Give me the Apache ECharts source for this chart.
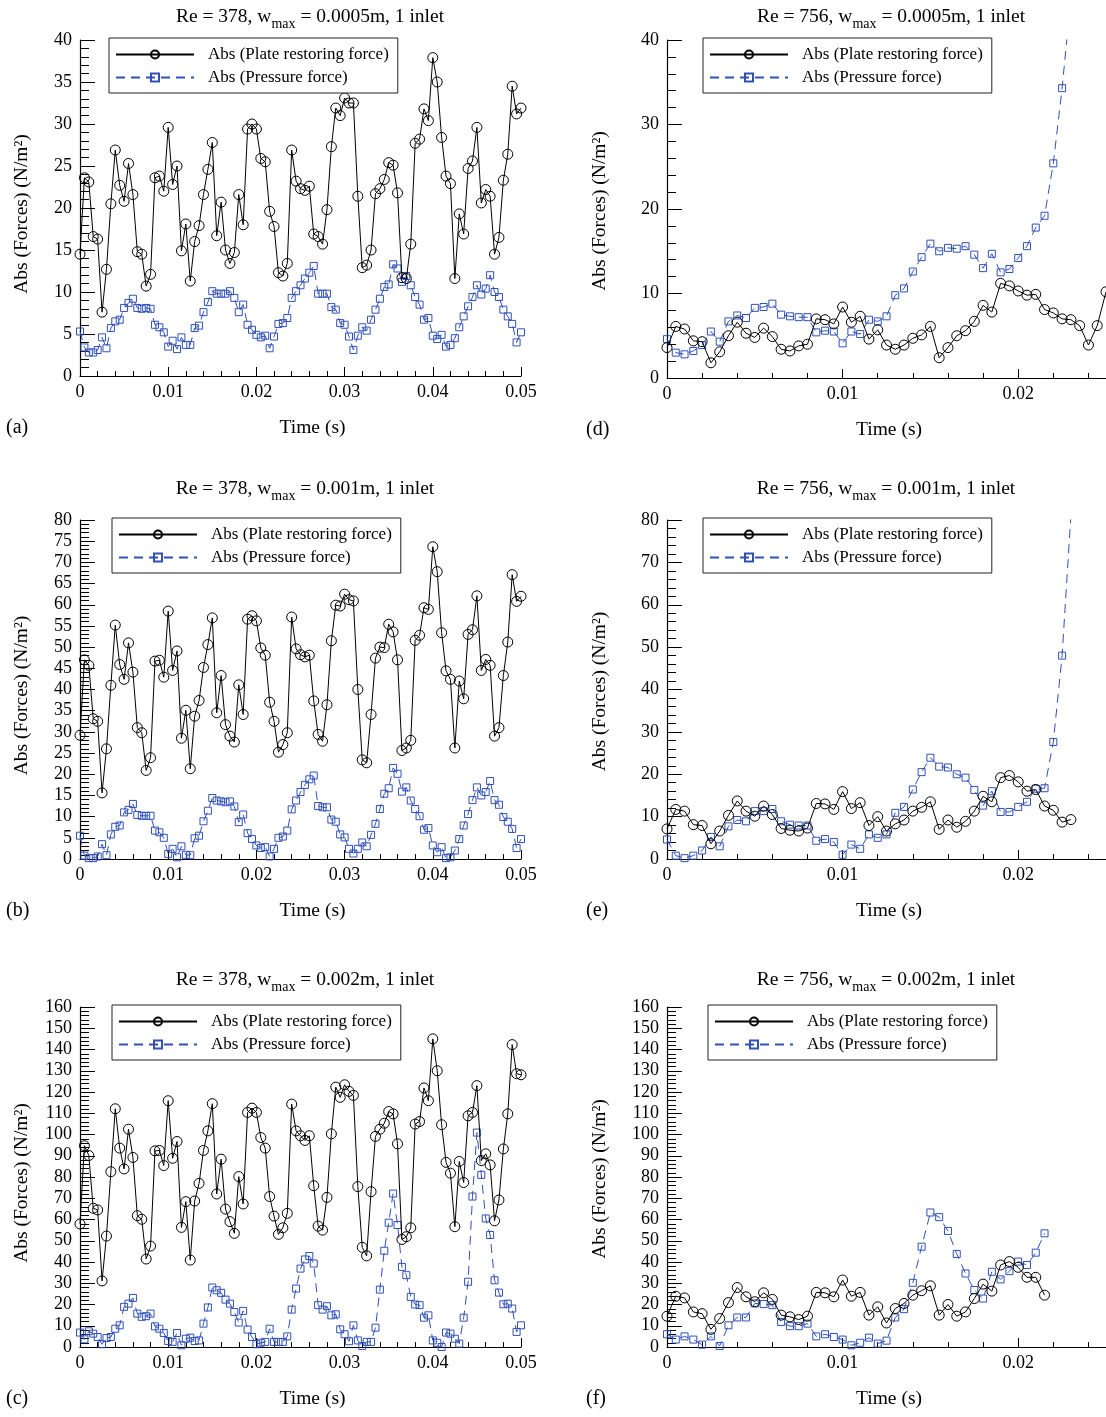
<!DOCTYPE html>
<html>
<head>
<meta charset="utf-8">
<script src="https://cdn.jsdelivr.net/npm/echarts@6/dist/echarts.min.js"></script>
<style>
  html, body { margin: 0; padding: 0; background: #fff; }
  #chart { width: 1106px; height: 1417px; }
</style>
</head>
<body>
<div id="chart"></div>
<script>
// Sampling interval of the recorded force histories (s)
const dt = 0.0005;

// Re = 378 runs, 0 - 0.05 s
const plateA = [14.5, 23.6, 23.1, 16.6, 16.3, 7.6, 12.7, 20.5, 26.9, 22.7, 20.8, 25.3, 21.6, 14.8, 14.5, 10.7, 12.1, 23.6, 23.8, 22.0, 29.6, 22.8, 25.0, 14.9, 18.1, 11.3, 16.0, 17.9, 21.6, 24.6, 27.8, 16.7, 20.7, 15.0, 13.4, 14.7, 21.6, 18.0, 29.4, 30.0, 29.4, 25.9, 25.5, 19.6, 17.8, 12.3, 11.9, 13.4, 26.9, 23.2, 22.3, 22.1, 22.6, 16.9, 16.6, 15.7, 19.8, 27.3, 31.9, 31.0, 33.1, 32.5, 32.5, 21.4, 12.9, 13.2, 15.0, 21.7, 22.3, 23.4, 25.4, 25.1, 21.8, 11.7, 11.6, 15.7, 27.7, 28.2, 31.8, 30.4, 37.9, 35.0, 28.4, 23.8, 22.9, 11.6, 19.3, 16.9, 24.7, 25.6, 29.6, 20.6, 22.2, 21.4, 14.5, 16.5, 23.3, 26.4, 34.5, 31.2, 31.9];
const pressureA = [5.3, 3.4, 2.8, 2.8, 3.1, 4.6, 3.3, 5.7, 6.5, 6.7, 8.1, 8.7, 9.2, 8.1, 8.0, 8.1, 8.0, 6.1, 5.8, 5.2, 3.5, 4.2, 3.2, 4.6, 3.7, 3.7, 5.7, 6.0, 7.6, 8.8, 10.1, 9.8, 9.8, 9.8, 10.1, 9.3, 7.6, 8.5, 6.1, 5.5, 4.9, 4.6, 4.8, 3.3, 4.7, 6.2, 6.3, 6.9, 9.3, 10.1, 10.8, 11.6, 12.3, 13.1, 9.8, 9.8, 9.8, 8.2, 7.9, 6.3, 6.1, 4.7, 3.1, 4.8, 5.8, 5.4, 6.7, 7.9, 9.2, 10.6, 10.9, 13.3, 12.8, 11.2, 11.9, 10.8, 9.4, 8.5, 6.7, 6.9, 4.8, 4.4, 4.9, 3.5, 3.7, 4.5, 5.8, 7.1, 8.3, 9.4, 10.8, 9.7, 10.4, 12.0, 10.0, 9.4, 7.9, 7.1, 6.2, 4.0, 5.2];

const plateB = [29.2, 47.0, 45.7, 33.1, 32.5, 15.6, 26.0, 41.0, 55.2, 45.9, 42.4, 51.0, 44.1, 31.0, 29.8, 20.9, 23.9, 46.7, 46.9, 42.9, 58.5, 44.5, 49.1, 28.5, 35.1, 21.3, 33.7, 37.4, 45.2, 50.6, 56.9, 34.5, 43.3, 31.7, 29.0, 27.6, 41.1, 34.1, 56.6, 57.4, 56.2, 49.8, 48.1, 37.0, 32.5, 25.2, 27.0, 29.8, 57.1, 49.6, 48.2, 47.7, 48.1, 37.3, 29.4, 27.8, 36.4, 51.5, 59.9, 59.7, 62.5, 61.2, 60.9, 40.0, 23.4, 22.7, 34.1, 47.4, 50.0, 49.9, 55.4, 53.6, 47.0, 25.6, 26.2, 28.0, 51.6, 52.8, 59.3, 58.9, 73.7, 67.8, 53.4, 44.4, 42.4, 26.2, 42.0, 37.8, 53.0, 54.1, 62.1, 44.5, 47.1, 45.7, 29.0, 31.0, 43.3, 51.2, 67.1, 60.8, 62.0];
const pressureB = [5.5, 0.8, 0.2, 0.2, 0.6, 3.5, 0.9, 5.8, 7.6, 7.9, 11.0, 11.6, 13.0, 10.4, 10.2, 10.2, 10.2, 6.7, 6.3, 5.0, 1.2, 2.4, 0.4, 3.0, 1.0, 0.9, 4.9, 5.5, 8.9, 11.4, 14.4, 13.8, 13.6, 13.4, 13.6, 12.4, 8.7, 10.5, 6.1, 4.7, 3.2, 2.6, 2.8, 0.6, 2.4, 5.0, 5.3, 6.7, 11.7, 13.8, 15.8, 17.5, 18.8, 19.7, 12.5, 12.2, 12.2, 9.3, 8.8, 5.8, 5.1, 2.4, 1.3, 2.4, 3.9, 3.0, 5.7, 8.3, 11.8, 15.4, 16.7, 21.5, 20.1, 15.9, 16.9, 13.8, 11.8, 10.1, 6.9, 7.3, 3.2, 1.6, 2.8, 0.2, 0.4, 2.0, 4.7, 7.9, 10.6, 13.9, 16.9, 15.0, 15.8, 18.4, 13.9, 12.8, 9.9, 8.8, 7.1, 2.6, 4.7];

const plateC = [57.9, 94.7, 90.1, 65.3, 64.5, 31.1, 52.2, 82.5, 112.1, 93.6, 83.8, 102.5, 89.2, 61.8, 60.1, 41.4, 47.5, 92.3, 92.5, 85.4, 115.9, 88.8, 96.7, 56.3, 68.4, 40.9, 68.7, 77.0, 92.5, 101.7, 114.5, 72.0, 88.4, 64.9, 59.0, 53.5, 80.2, 67.3, 110.4, 112.4, 110.4, 98.6, 93.6, 70.8, 61.6, 53.0, 56.1, 62.9, 114.3, 101.7, 99.4, 97.2, 99.4, 75.9, 56.9, 55.0, 70.4, 100.3, 122.3, 117.5, 123.4, 120.3, 118.4, 75.5, 46.9, 42.9, 73.1, 99.1, 102.5, 105.3, 110.8, 109.7, 95.6, 50.6, 51.9, 56.1, 104.9, 106.1, 121.9, 115.9, 145.0, 130.0, 104.6, 86.9, 81.8, 56.6, 87.3, 77.4, 108.8, 110.4, 123.0, 87.7, 90.9, 85.7, 59.4, 69.2, 93.2, 109.7, 142.3, 128.6, 128.1];
const pressureC = [6.8, 3.6, 7.4, 6.3, 4.7, 1.3, 4.2, 4.7, 8.6, 10.2, 18.9, 20.4, 23.1, 15.7, 14.2, 14.5, 15.7, 9.7, 8.6, 6.6, 2.8, 2.4, 6.6, 0.8, 3.9, 4.4, 2.8, 3.1, 11.0, 18.6, 28.0, 26.7, 25.5, 22.3, 20.4, 16.5, 11.5, 17.0, 8.2, 4.7, 1.3, 2.0, 2.4, 8.6, 2.4, 2.4, 2.4, 5.0, 17.6, 27.5, 36.9, 41.2, 42.8, 39.3, 19.7, 17.6, 19.2, 14.9, 15.4, 8.3, 6.0, 2.7, 10.2, 3.1, 0.5, 2.4, 2.4, 9.1, 27.0, 45.3, 58.5, 72.2, 57.4, 37.7, 33.8, 23.6, 20.0, 19.7, 13.8, 14.9, 3.1, 2.0, 0.0, 6.8, 6.3, 3.9, 1.6, 13.8, 30.7, 70.8, 100.9, 81.0, 60.5, 52.7, 31.4, 25.6, 20.1, 20.4, 18.1, 7.1, 10.2];

// Re = 756 runs, stop once the plate hits the wall
const plateD = [3.6, 6.1, 5.8, 4.4, 4.3, 1.8, 3.1, 5.0, 6.6, 5.3, 4.8, 5.9, 4.9, 3.4, 3.2, 3.8, 4.0, 7.0, 6.9, 6.4, 8.4, 6.6, 7.3, 4.6, 5.7, 3.9, 3.4, 3.9, 4.7, 5.1, 6.1, 2.4, 3.6, 5.0, 5.6, 6.7, 8.6, 7.8, 11.2, 10.9, 10.3, 9.8, 9.9, 8.1, 7.7, 7.0, 6.9, 6.2, 3.9, 6.2, 10.2];
const pressureD = [4.6, 3.0, 2.8, 3.2, 3.9, 5.5, 4.3, 6.7, 7.4, 7.1, 8.3, 8.4, 8.8, 7.5, 7.3, 7.2, 7.2, 5.4, 5.6, 5.5, 4.1, 5.5, 5.2, 6.9, 6.7, 7.3, 9.8, 10.6, 12.6, 14.3, 15.9, 15.0, 15.4, 15.3, 15.6, 14.6, 13.0, 14.7, 12.5, 12.9, 14.2, 15.6, 17.8, 19.2, 25.4, 34.3, 45.0];

const plateE = [7.1, 11.7, 11.3, 8.1, 7.9, 3.6, 6.6, 10.3, 13.7, 11.3, 10.1, 12.5, 10.5, 7.2, 6.8, 6.6, 7.3, 13.1, 13.0, 11.7, 15.9, 11.9, 13.3, 7.9, 10.0, 6.6, 8.3, 9.2, 11.3, 12.2, 13.5, 7.0, 9.2, 7.5, 8.9, 11.3, 14.8, 13.5, 19.2, 19.7, 18.2, 16.0, 16.4, 12.5, 11.5, 8.7, 9.3];
const pressureE = [4.6, 0.8, 0.2, 0.8, 2.0, 5.2, 3.0, 7.7, 9.2, 8.9, 11.3, 11.3, 11.8, 8.9, 8.1, 7.9, 7.9, 4.3, 4.7, 4.0, 1.0, 3.4, 2.4, 5.8, 5.0, 5.8, 10.9, 12.3, 16.4, 20.5, 23.9, 21.8, 21.6, 20.0, 19.2, 16.3, 12.6, 16.0, 11.1, 11.1, 12.3, 13.5, 16.6, 16.7, 27.6, 48.0, 81.0];

const plateF = [14.5, 23.9, 23.1, 16.5, 15.7, 8.3, 13.4, 20.9, 28.0, 23.6, 21.3, 25.5, 22.4, 15.0, 14.2, 12.9, 14.5, 25.7, 25.5, 23.6, 31.5, 23.9, 25.7, 15.0, 18.9, 11.3, 18.1, 20.5, 24.4, 26.5, 28.8, 15.0, 20.0, 14.5, 16.5, 22.8, 29.6, 26.3, 38.6, 40.2, 37.5, 32.8, 32.8, 24.4];
const pressureF = [6.0, 3.5, 5.0, 3.5, 1.1, 5.0, 0.5, 10.2, 13.9, 13.9, 20.5, 20.2, 19.7, 11.8, 9.8, 9.8, 11.0, 5.0, 6.0, 4.7, 3.5, 0.8, 2.0, 4.4, 1.6, 3.0, 13.9, 17.8, 30.2, 47.2, 63.3, 61.1, 54.6, 43.8, 34.6, 26.8, 22.8, 35.4, 31.8, 35.7, 40.2, 38.6, 44.4, 53.5];

const NAME_PLATE = 'Abs (Plate restoring force)';
const NAME_PRESSURE = 'Abs (Pressure force)';
const Y_NAME = 'Abs (Forces) (N/m\u00B2)';
const X_NAME = 'Time (s)';

const FONT = '"Liberation Serif", "Times New Roman", serif';
const BLUE = '#3050b8';

// layout of the six panels: [left, top, width, height]
const panels = [
  { tag: '(a)', re: '378', w: '0.0005', plate: plateA, pressure: pressureA, yMax: 40,  yStep: 5,  xMax: 0.05,  box: [80, 40, 441, 336],    legendAt: [109, 38],   titleAt: [305, -2],  yNameGap: 48, tagX: 6,   xNameShift: 24, yNameShift: 12 },
  { tag: '(b)', re: '378', w: '0.001',  plate: plateB, pressure: pressureB, yMax: 80,  yStep: 5,  xMax: 0.05,  box: [80, 520, 441, 339],   legendAt: [112, 518],  titleAt: [300, 470], yNameGap: 48, tagX: 6,   xNameShift: 24, yNameShift: 12 },
  { tag: '(c)', re: '378', w: '0.002',  plate: plateC, pressure: pressureC, yMax: 160, yStep: 10, xMax: 0.05,  box: [80, 1007, 441, 340],  legendAt: [112, 1005], titleAt: [300, 961], yNameGap: 48, tagX: 6,   xNameShift: 24, yNameShift: 12 },
  { tag: '(d)', re: '756', w: '0.0005', plate: plateD, pressure: pressureD, yMax: 40,  yStep: 10, xMax: 0.025, box: [667, 40, 439, 338],   legendAt: [703, 38],   titleAt: [886, -2],  yNameGap: 57, tagX: 586, xNameShift: 5,  yNameShift: 4 },
  { tag: '(e)', re: '756', w: '0.001',  plate: plateE, pressure: pressureE, yMax: 80,  yStep: 10, xMax: 0.025, box: [667, 520, 439, 339],  legendAt: [703, 518],  titleAt: [881, 470], yNameGap: 57, tagX: 586, xNameShift: 5,  yNameShift: 4 },
  { tag: '(f)', re: '756', w: '0.002',  plate: plateF, pressure: pressureF, yMax: 160, yStep: 10, xMax: 0.025, box: [667, 1007, 439, 340], legendAt: [708, 1005], titleAt: [881, 961], yNameGap: 57, tagX: 586, xNameShift: 5,  yNameShift: 4 }
];

const toPoints = (values) => values.map((v, i) => [i * dt, v]);

const grid = [], xAxis = [], yAxis = [], series = [], legend = [], title = [], graphic = [];

const labelStyle = { fontFamily: FONT, fontSize: 18, color: '#000', fontWeight: 'normal' };
const nameStyle = { fontFamily: FONT, fontSize: 19.5, color: '#000', fontWeight: 'normal' };

panels.forEach((p, gi) => {
  const [left, top, width, height] = p.box;
  grid.push({ left, top, width, height, containLabel: false });

  const wide = p.xMax === 0.05;
  const xi = xAxis.length;
  xAxis.push({
    type: 'value', gridIndex: gi, min: 0, max: p.xMax, interval: 0.01,
    position: 'bottom',
    name: X_NAME, nameLocation: 'middle', nameGap: 42,
    nameTextStyle: { ...nameStyle, padding: [0, 0, 0, p.xNameShift] },
    axisLine: { show: true, onZero: false, lineStyle: { color: '#000', width: 1.2 } },
    axisTick: { show: true, inside: true, length: 9, lineStyle: { color: '#000', width: 1 } },
    minorTick: { show: wide, splitNumber: 5, length: 5, lineStyle: { color: '#000', width: 1 } },
    axisLabel: { ...labelStyle, margin: 7, showMaxLabel: wide },
    splitLine: { show: false }
  });
  if (!wide) {
    // finer ticks every 2 ms on the shorter time axes
    xAxis.push({
      type: 'value', gridIndex: gi, min: 0, max: p.xMax, interval: 0.002,
      position: 'bottom', offset: 0,
      axisLine: { show: false, onZero: false },
      axisTick: { show: true, inside: true, length: 5, lineStyle: { color: '#000', width: 1 } },
      axisLabel: { show: false },
      splitLine: { show: false }
    });
  }

  yAxis.push({
    type: 'value', gridIndex: gi, min: 0, max: p.yMax, interval: p.yStep,
    name: Y_NAME, nameLocation: 'middle', nameGap: p.yNameGap,
    nameTextStyle: { ...nameStyle, padding: [0, p.yNameShift, 0, 0] },
    axisLine: { show: true, onZero: false, lineStyle: { color: '#000', width: 1.2 } },
    axisTick: { show: true, inside: true, length: 15, lineStyle: { color: '#000', width: 1 } },
    minorTick: { show: true, splitNumber: 5, length: 9, lineStyle: { color: '#000', width: 1 } },
    axisLabel: { ...labelStyle, margin: 8 },
    splitLine: { show: false }
  });

  series.push({
    type: 'line', name: NAME_PLATE, xAxisIndex: xi, yAxisIndex: gi,
    data: toPoints(p.plate), clip: true,
    symbol: 'circle', symbolSize: 10,
    lineStyle: { color: '#000', width: 1 },
    itemStyle: { color: 'rgba(0,0,0,0)', borderColor: '#000', borderWidth: 1 },
    emphasis: { disabled: true }, z: 3
  });
  series.push({
    type: 'line', name: NAME_PRESSURE, xAxisIndex: xi, yAxisIndex: gi,
    data: toPoints(p.pressure), clip: true,
    symbol: 'rect', symbolSize: 7,
    lineStyle: { color: BLUE, width: 1, type: [9, 6] },
    itemStyle: { color: 'rgba(0,0,0,0)', borderColor: BLUE, borderWidth: 1 },
    emphasis: { disabled: true }, z: 2
  });

  legend.push({
    left: p.legendAt[0], top: p.legendAt[1], orient: 'vertical',
    itemWidth: 78, itemHeight: 10, itemGap: 6,
    padding: [8, 9, 7, 6],
    borderColor: '#222', borderWidth: 1, backgroundColor: '#fff',
    textStyle: { fontFamily: FONT, fontSize: 17, color: '#000', padding: [0, 0, 0, 9] },
    selectedMode: false,
    data: [NAME_PLATE, NAME_PRESSURE]
  });

  title.push({
    left: p.titleAt[0], top: p.titleAt[1], textAlign: 'center',
    text: '{n|Re = ' + p.re + ', w}{s|max}{n| = ' + p.w + 'm, 1 inlet}',
    textStyle: {
      fontWeight: 'normal',
      rich: {
        n: { fontFamily: FONT, fontSize: 19.5, color: '#000', fontWeight: 'normal' },
        s: { fontFamily: FONT, fontSize: 14, color: '#000', fontWeight: 'normal', padding: [14, 0, 0, 0] }
      }
    }
  });

  graphic.push({
    type: 'text', left: p.tagX, top: top + height + 42,
    style: { text: p.tag, font: '20px ' + FONT, fill: '#000' }
  });
});

const chart = echarts.init(document.getElementById('chart'), null, { renderer: 'canvas' });
chart.setOption({
  animation: false,
  backgroundColor: '#fff',
  title, grid, xAxis, yAxis, series, legend, graphic
});
</script>
</body>
</html>
